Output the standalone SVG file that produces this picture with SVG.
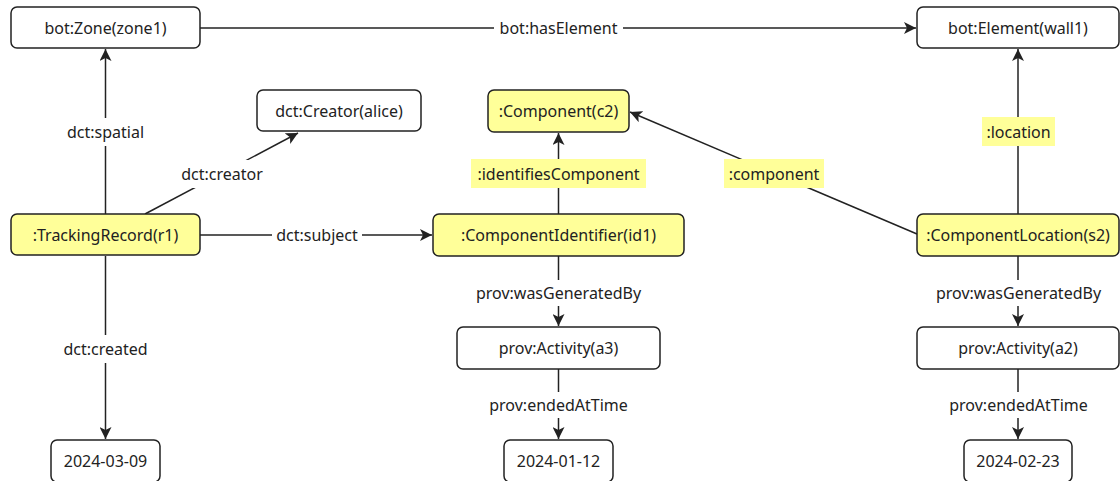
<svg xmlns="http://www.w3.org/2000/svg" width="1120" height="481" viewBox="0 0 1120 481">
<style>
text{font-family:"Noto Sans","Open Sans","DejaVu Sans",sans-serif;font-size:16px;fill:#222;text-anchor:middle;dominant-baseline:central}
.n rect{fill:#fff;stroke:#222;stroke-width:1.5}
.n.y rect{fill:#ffff99}
.e line{stroke:#222;stroke-width:1.5}
.lb{fill:#fff}
.ly{fill:#ffff99}
</style>
<defs>
<marker id="a" viewBox="0 0 12 12" refX="12" refY="6" markerWidth="12" markerHeight="12" markerUnits="userSpaceOnUse" orient="auto">
<path d="M0,0 L12,6 L0,12 L3,6 Z" fill="#222"/>
</marker>
</defs>
<g id="edges" class="e">
<line x1="200" y1="28" x2="916" y2="28" marker-end="url(#a)"/>
<line x1="105.5" y1="214" x2="105.5" y2="49" marker-end="url(#a)"/>
<line x1="145" y1="214" x2="298" y2="133" marker-end="url(#a)"/>
<line x1="200" y1="235" x2="432" y2="235" marker-end="url(#a)"/>
<line x1="105.5" y1="256" x2="105.5" y2="439" marker-end="url(#a)"/>
<line x1="558.5" y1="214" x2="558.5" y2="133" marker-end="url(#a)"/>
<line x1="917" y1="234" x2="630" y2="112" marker-end="url(#a)"/>
<line x1="1018" y1="214" x2="1018" y2="49" marker-end="url(#a)"/>
<line x1="558.5" y1="256" x2="558.5" y2="326" marker-end="url(#a)"/>
<line x1="558.5" y1="369" x2="558.5" y2="439" marker-end="url(#a)"/>
<line x1="1018" y1="256" x2="1018" y2="326" marker-end="url(#a)"/>
<line x1="1018" y1="369" x2="1018" y2="439" marker-end="url(#a)"/>
<rect class="lb" x="494" y="17" width="129" height="22"/><text x="558.5" y="28">bot:hasElement</text>
<rect class="lb" x="64" y="118" width="83" height="28"/><text x="105.5" y="132">dct:spatial</text>
<rect class="lb" x="176" y="160" width="92" height="28"/><text x="222" y="174">dct:creator</text>
<rect class="lb" x="272" y="225" width="90" height="22"/><text x="317" y="235">dct:subject</text>
<rect class="lb" x="60" y="335" width="90" height="28"/><text x="105.5" y="349">dct:created</text>
<rect class="ly" x="471" y="159" width="175" height="29"/><text x="558.5" y="174">:identifiesComponent</text>
<rect class="ly" x="724" y="159" width="100" height="29"/><text x="774" y="174">:component</text>
<rect class="ly" x="982" y="117" width="73" height="29"/><text x="1018.5" y="132">:location</text>
<rect class="lb" x="470" y="280" width="177" height="26"/><text x="558.5" y="293">prov:wasGeneratedBy</text>
<rect class="lb" x="485" y="392" width="147" height="26"/><text x="558.5" y="405">prov:endedAtTime</text>
<rect class="lb" x="930" y="280" width="177" height="26"/><text x="1018.5" y="293">prov:wasGeneratedBy</text>
<rect class="lb" x="945" y="392" width="147" height="26"/><text x="1018.5" y="405">prov:endedAtTime</text>
</g>
<g id="zone" class="n"><rect x="11" y="7" width="189" height="41" rx="6"/><text x="105.5" y="28">bot:Zone(zone1)</text></g>
<g id="element" class="n"><rect x="917" y="7" width="202" height="41" rx="6"/><text x="1018" y="28">bot:Element(wall1)</text></g>
<g id="creator" class="n"><rect x="257" y="90" width="164" height="41" rx="6"/><text x="339" y="111">dct:Creator(alice)</text></g>
<g id="component" class="n y"><rect x="488" y="90" width="141" height="42" rx="6"/><text x="558.5" y="111">:Component(c2)</text></g>
<g id="record" class="n y"><rect x="11" y="214" width="189" height="41" rx="6"/><text x="105.5" y="235">:TrackingRecord(r1)</text></g>
<g id="identifier" class="n y"><rect x="433" y="214" width="251" height="42" rx="6"/><text x="558.5" y="235">:ComponentIdentifier(id1)</text></g>
<g id="location" class="n y"><rect x="917" y="214" width="202" height="42" rx="6"/><text x="1018" y="235">:ComponentLocation(s2)</text></g>
<g id="activity3" class="n"><rect x="457" y="327" width="203" height="42" rx="6"/><text x="558.5" y="348">prov:Activity(a3)</text></g>
<g id="activity2" class="n"><rect x="917" y="327" width="202" height="42" rx="6"/><text x="1018" y="348">prov:Activity(a2)</text></g>
<g id="date1" class="n"><rect x="51" y="440" width="109" height="42" rx="6"/><text x="105.5" y="461">2024-03-09</text></g>
<g id="date2" class="n"><rect x="504" y="440" width="109" height="42" rx="6"/><text x="558.5" y="461">2024-01-12</text></g>
<g id="date3" class="n"><rect x="964" y="440" width="108" height="42" rx="6"/><text x="1018" y="461">2024-02-23</text></g>
</svg>
